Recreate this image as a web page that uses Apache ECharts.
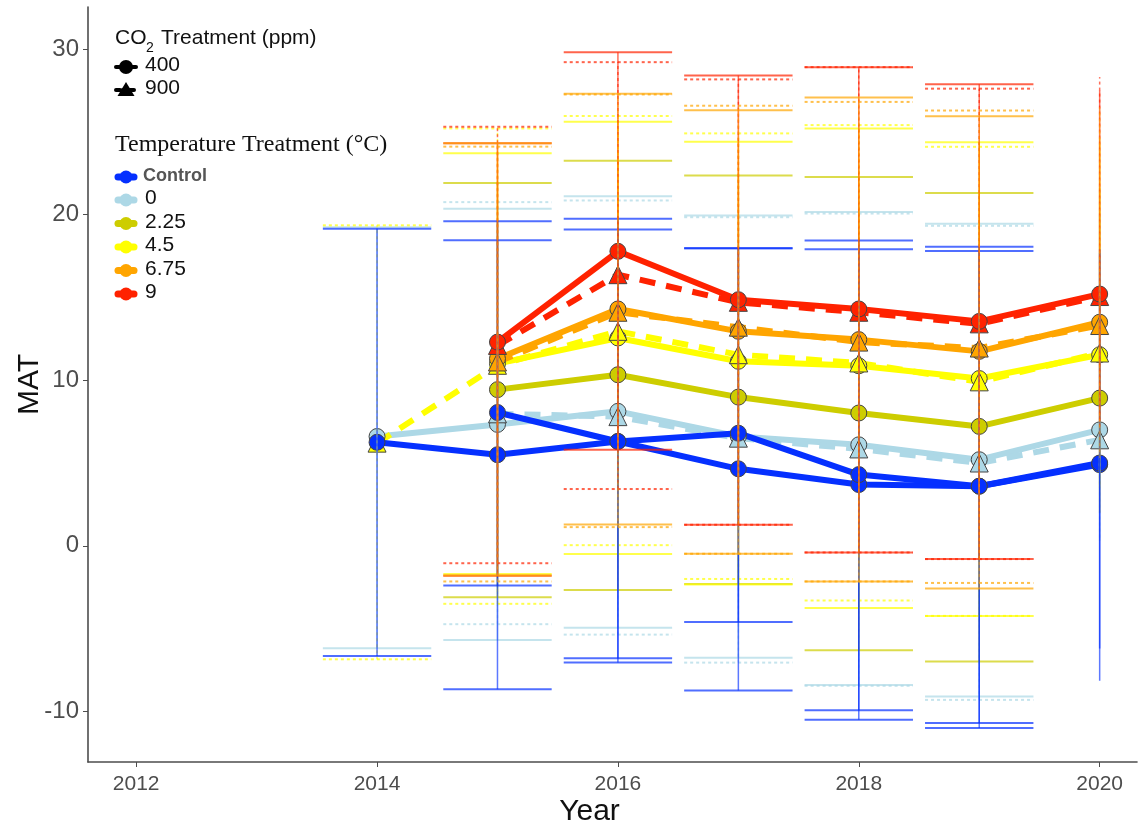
<!DOCTYPE html>
<html>
<head>
<meta charset="utf-8">
<script src="https://cdn.jsdelivr.net/npm/echarts@6/dist/echarts.min.js"></script>
<style>
html,body{margin:0;padding:0;background:#fff;}
#chart{width:1139px;height:827px;}
</style>
</head>
<body>
<div id="chart"></div>
<script>
// ---------- DATA ----------
const years = [2014, 2015, 2016, 2017, 2018, 2019, 2020];
const xTickValues = [2012, 2014, 2016, 2018, 2020];
const yTickValues = [-10, 0, 10, 20, 30];
const tempLevels = ['Control', '0', '2.25', '4.5', '6.75', '9'];
const co2Levels = ['400', '900'];

// Control (two blue traces)
const ctrlA_mean = [6.25, 5.5, 6.3, 6.8, 4.3, 3.6, 5.0];
const ctrlA_min  = [-6.65, -8.66, -6.79, -8.74, -10.5, -11.0, -8.15];
const ctrlA_max  = [19.14, 19.6, 19.75, 17.97, 18.43, 18.05, 17.9];
const ctrlB_mean = [null, 8.05, 6.3, 4.65, 3.7, 3.6, 4.9];
const ctrlB_min  = [null, -2.4, -7.05, -4.6, -9.93, -10.7, -6.2];
const ctrlB_max  = [null, 18.45, 19.1, 17.97, 17.91, 17.8, 17.7];
// 0 °C
const t0_400_mean = [6.6, 7.33, 8.12, 6.6, 6.1, 5.2, 7.0];
const t0_400_min  = [-6.18, -5.68, -4.95, -6.75, -8.4, -9.1, 0.3];
const t0_400_max  = [19.23, 20.35, 21.1, 19.94, 20.16, 19.44, 20.1];
const t0_900_mean = [null, 7.97, 7.8, 6.5, 5.85, 5.0, 6.4];
const t0_900_min  = [null, -4.73, -5.36, -7.05, -8.45, -9.3, 0.5];
const t0_900_max  = [null, 20.75, 20.85, 19.84, 20.06, 19.32, 19.9];
// 2.25 °C
const t225_400_mean = [null, 9.43, 10.33, 8.98, 8.02, 7.21, 8.92];
const t225_400_min  = [null, -3.1, -2.66, -2.3, -6.3, -6.99, 2.0];
const t225_400_max  = [null, 21.9, 23.25, 22.36, 22.26, 21.3, 21.6];
// 4.5 °C
const t45_400_mean = [null, 11.0, 12.55, 11.14, 10.87, 10.1, 11.54];
const t45_400_min  = [null, -1.7, -0.5, -2.33, -3.75, -4.23, 3.5];
const t45_400_max  = [null, 23.7, 25.6, 24.4, 25.2, 24.37, 24.6];
const t45_900_mean = [6.2, 10.9, 12.95, 11.54, 11.04, 9.9, 11.64];
const t45_900_min  = [-6.85, -3.5, 0.04, -2.0, -3.3, -4.23, 3.7];
const t45_900_max  = [19.35, 25.2, 25.95, 24.9, 25.4, 24.09, 24.3];
// 6.75 °C
const t675_400_mean = [null, 11.3, 14.3, 12.95, 12.45, 11.74, 13.5];
const t675_400_min  = [null, -1.79, 1.29, -0.48, -2.15, -2.58, 5.5];
const t675_400_max  = [null, 24.3, 27.3, 26.3, 27.07, 25.94, 26.5];
const t675_900_mean = [null, 11.1, 14.1, 13.2, 12.3, 11.94, 13.3];
const t675_900_min  = [null, -2.15, 1.13, -0.48, -2.15, -2.24, 5.3];
const t675_900_max  = [null, 24.1, 27.25, 26.57, 26.8, 26.28, 26.3];
// 9 °C
const t9_400_mean = [null, 12.3, 17.78, 14.86, 14.3, 13.55, 15.2];
const t9_400_min  = [null, -1.8, 5.8, 1.27, -0.4, -0.8, 7.5];
const t9_400_max  = [null, 24.3, 29.8, 28.4, 28.9, 27.86, 27.5];
const t9_900_mean = [null, 12.1, 16.37, 14.7, 14.1, 13.4, 15.05];
const t9_900_min  = [null, -1.05, 3.43, 1.27, -0.4, -0.8, 7.2];
const t9_900_max  = [null, 25.3, 29.2, 28.16, 28.9, 27.6, 28.3];

// ---------- STYLE ----------
const colors = {
  'Control': '#0530FF', '0': '#ADD8E6', '2.25': '#CDCD00',
  '4.5': '#FFFF00', '6.75': '#FFA500', '9': '#FF2200'
};
const G = {
  ctrlA: {temp: 'Control', co2: '400', mean: ctrlA_mean, min: ctrlA_min, max: ctrlA_max},
  ctrlB: {temp: 'Control', co2: '400', mean: ctrlB_mean, min: ctrlB_min, max: ctrlB_max},
  t0a: {temp: '0', co2: '400', mean: t0_400_mean, min: t0_400_min, max: t0_400_max},
  t0b: {temp: '0', co2: '900', mean: t0_900_mean, min: t0_900_min, max: t0_900_max},
  t225a: {temp: '2.25', co2: '400', mean: t225_400_mean, min: t225_400_min, max: t225_400_max},
  t45a: {temp: '4.5', co2: '400', mean: t45_400_mean, min: t45_400_min, max: t45_400_max},
  t45b: {temp: '4.5', co2: '900', mean: t45_900_mean, min: t45_900_min, max: t45_900_max},
  t675a: {temp: '6.75', co2: '400', mean: t675_400_mean, min: t675_400_min, max: t675_400_max},
  t675b: {temp: '6.75', co2: '900', mean: t675_900_mean, min: t675_900_min, max: t675_900_max},
  t9a: {temp: '9', co2: '400', mean: t9_400_mean, min: t9_400_min, max: t9_400_max},
  t9b: {temp: '9', co2: '900', mean: t9_900_mean, min: t9_900_min, max: t9_900_max}
};
const lineOrder = ['t0a', 't0b', 't225a', 't45a', 't45b', 't675a', 't675b', 't9b', 't9a', 'ctrlB', 'ctrlA'];
const errOrder = ['t0a', 't0b', 't225a', 't45a', 't45b', 'ctrlA', 'ctrlB', 't9a', 't9b', 't675b', 't675a'];

const SANS = '"Liberation Sans", Arial, sans-serif';
const SERIF = '"Liberation Serif", "Times New Roman", serif';

function pairs(arr) {
  const out = [];
  arr.forEach((v, i) => { if (v !== null) out.push([years[i], v]); });
  return out;
}
function errData(g) {
  const out = [];
  g.mean.forEach((v, i) => { if (v !== null) out.push([years[i], g.min[i], g.max[i]]); });
  return out;
}
function errRender(color, dotted, vOpacity) {
  return function (params, api) {
    const x = api.value(0), lo = api.value(1), hi = api.value(2);
    const pLo = api.coord([x, lo]);
    const pHi = api.coord([x, hi]);
    const half = x >= 2020 ? 0 : api.size([0.45, 0])[0];
    const dash = dotted ? [3, 3] : null;
    const children = [{
      type: 'line',
      shape: {x1: pLo[0], y1: pLo[1], x2: pHi[0], y2: pHi[1]},
      style: {stroke: color, lineWidth: 1.5, lineDash: dash, opacity: vOpacity}
    }];
    if (half > 0) {
      [pLo, pHi].forEach(p => children.push({
        type: 'line',
        shape: {x1: p[0] - half, y1: p[1], x2: p[0] + half, y2: p[1]},
        style: {stroke: color, lineWidth: 2, lineDash: dash, opacity: 0.7}
      }));
    }
    return {type: 'group', children: children};
  };
}

const series = [];
lineOrder.forEach(k => {
  const g = G[k];
  const c = colors[g.temp];
  const is900 = g.co2 === '900';
  series.push({
    type: 'line',
    name: g.temp + ' / ' + g.co2,
    data: pairs(g.mean),
    z: 2,
    symbol: is900 ? 'triangle' : 'circle',
    symbolSize: is900 ? 18 : 16,
    showAllSymbol: true,
    lineStyle: {color: c, width: 6, type: is900 ? [16, 11] : 'solid', cap: 'butt'},
    itemStyle: {color: c, borderColor: '#444', borderWidth: 1},
    emphasis: {disabled: true},
    animation: false
  });
});
errOrder.forEach(k => {
  const g = G[k];
  series.push({
    type: 'custom',
    name: 'err ' + g.temp + ' / ' + g.co2,
    data: errData(g),
    encode: {x: 0, y: [1, 2]},
    renderItem: errRender(colors[g.temp], g.co2 === '900', g.temp === '6.75' ? 0.42 : 0.65),
    z: 5,
    silent: true,
    animation: false
  });
});

// ---------- LEGEND (graphic) ----------
const graphic = [];
const lx = 126;
graphic.push({type: 'text', left: 115, top: 28, style: {text: 'CO', font: '21px ' + SANS, fill: '#111'}});
graphic.push({type: 'text', left: 146, top: 41, style: {text: '2', font: '14px ' + SANS, fill: '#111'}});
graphic.push({type: 'text', left: 161, top: 28, style: {text: 'Treatment (ppm)', font: '21px ' + SANS, fill: '#111'}});
const co2Y = [67, 90];
co2Levels.forEach((lvl, i) => {
  const y = co2Y[i];
  graphic.push({type: 'line', shape: {x1: lx - 10, y1: y, x2: lx + 10, y2: y},
    style: {stroke: '#000', lineWidth: 4, lineCap: 'round', lineDash: i ? [4, 3] : null}});
  if (i === 0) {
    graphic.push({type: 'circle', shape: {cx: lx, cy: y, r: 7}, style: {fill: '#000'}});
  } else {
    graphic.push({type: 'polygon', shape: {points: [[lx, y - 8], [lx - 8.5, y + 6], [lx + 8.5, y + 6]]}, style: {fill: '#000'}});
  }
  graphic.push({type: 'text', left: 145, top: y - 12, style: {text: lvl, font: '21px ' + SANS, fill: '#111'}});
});
graphic.push({type: 'text', left: 115, top: 133, style: {text: 'Temperature Treatment (°C)', font: '24px ' + SERIF, fill: '#111'}});
const tY = [177, 200, 223.5, 247, 270.5, 294];
tempLevels.forEach((lvl, i) => {
  const y = tY[i];
  const c = colors[lvl];
  graphic.push({type: 'line', shape: {x1: lx - 8, y1: y, x2: lx + 8, y2: y}, style: {stroke: c, lineWidth: 7, lineCap: 'round'}});
  graphic.push({type: 'circle', shape: {cx: lx, cy: y, r: 6.5}, style: {fill: c}});
  const bold = lvl === 'Control';
  graphic.push({type: 'text', left: bold ? 143 : 145, top: y - (bold ? 10 : 12),
    style: {text: lvl, font: (bold ? 'bold 18px ' : '21px ') + SANS, fill: bold ? '#555' : '#111'}});
});

// ---------- CHART ----------
const chart = echarts.init(document.getElementById('chart'), null, {renderer: 'canvas'});
chart.setOption({
  animation: false,
  backgroundColor: '#fff',
  grid: {left: 88, right: 2, top: 7, bottom: 65, containLabel: false, outerBoundsMode: 'none'},
  xAxis: {
    type: 'value', min: 2011.6, max: 2020.31,
    name: 'Year', nameLocation: 'middle', nameGap: 35, nameMoveOverlap: false,
    nameTextStyle: {fontSize: 30, fontFamily: SANS, color: '#111', padding: [0, 46, 0, 0]},
    axisLine: {show: true, onZero: false, lineStyle: {color: '#4d4d4d', width: 1.6}},
    axisTick: {show: true, length: 5, lineStyle: {color: '#4d4d4d'}, customValues: xTickValues},
    axisLabel: {fontSize: 21, fontFamily: SANS, color: '#4d4d4d', margin: 12,
      customValues: xTickValues, formatter: v => String(v)},
    splitLine: {show: false}
  },
  yAxis: {
    type: 'value', min: -13.05, max: 32.53,
    name: 'MAT', nameLocation: 'middle', nameGap: 43, nameMoveOverlap: false,
    nameTextStyle: {fontSize: 30, fontFamily: SANS, color: '#111'},
    axisLine: {show: true, onZero: false, lineStyle: {color: '#4d4d4d', width: 1.6}},
    axisTick: {show: true, length: 5, lineStyle: {color: '#4d4d4d'}, customValues: yTickValues},
    axisLabel: {fontSize: 24, fontFamily: SANS, color: '#4d4d4d', margin: 9,
      customValues: yTickValues, formatter: v => String(v)},
    splitLine: {show: false}
  },
  series: series,
  graphic: graphic
});
</script>
</body>
</html>
